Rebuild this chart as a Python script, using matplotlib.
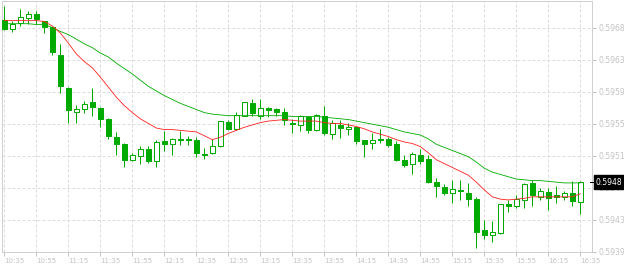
import matplotlib
matplotlib.use('Agg')
import matplotlib.pyplot as plt
import matplotlib.transforms as mtransforms

# 5-minute candles, 10:35 .. 16:35
opens = [0.59686, 0.59674, 0.59682, 0.59688, 0.59694, 0.59684, 0.59677, 0.59641, 0.59598, 0.59567,
         0.59571, 0.59580, 0.59572, 0.59558, 0.59534, 0.59526, 0.59505, 0.59510, 0.59519, 0.59504,
         0.59529, 0.59525, 0.59532, 0.59532, 0.59531, 0.59513, 0.59514, 0.59523, 0.59554, 0.59545,
         0.59562, 0.59578, 0.59562, 0.59572, 0.59570, 0.59567, 0.59552, 0.59550, 0.59560, 0.59543,
         0.59562, 0.59538, 0.59550, 0.59545, 0.59547, 0.59530, 0.59527, 0.59532, 0.59532, 0.59526,
         0.59505, 0.59499, 0.59511, 0.59506, 0.59476, 0.59470, 0.59462, 0.59466, 0.59462, 0.59454,
         0.59414, 0.59407, 0.59410, 0.59448, 0.59445, 0.59453, 0.59475, 0.59457, 0.59463, 0.59459,
         0.59457, 0.59462, 0.59450]
highs = [0.59704, 0.59684, 0.59700, 0.59698, 0.59698, 0.59685, 0.59677, 0.59655, 0.59599, 0.59576,
         0.59581, 0.59598, 0.59573, 0.59559, 0.59541, 0.59527, 0.59514, 0.59523, 0.59523, 0.59530,
         0.59542, 0.59533, 0.59542, 0.59536, 0.59535, 0.59520, 0.59532, 0.59555, 0.59557, 0.59567,
         0.59580, 0.59583, 0.59583, 0.59573, 0.59572, 0.59572, 0.59558, 0.59563, 0.59562, 0.59564,
         0.59574, 0.59557, 0.59557, 0.59552, 0.59548, 0.59531, 0.59540, 0.59545, 0.59535, 0.59529,
         0.59511, 0.59515, 0.59519, 0.59511, 0.59481, 0.59473, 0.59479, 0.59479, 0.59475, 0.59457,
         0.59427, 0.59426, 0.59448, 0.59453, 0.59460, 0.59475, 0.59479, 0.59469, 0.59468, 0.59471,
         0.59465, 0.59477, 0.59478]
lows = [0.59673, 0.59670, 0.59678, 0.59680, 0.59680, 0.59669, 0.59640, 0.59591, 0.59553, 0.59553,
        0.59565, 0.59562, 0.59548, 0.59532, 0.59511, 0.59496, 0.59504, 0.59500, 0.59501, 0.59496,
        0.59516, 0.59511, 0.59524, 0.59524, 0.59509, 0.59506, 0.59512, 0.59522, 0.59543, 0.59544,
        0.59561, 0.59562, 0.59558, 0.59560, 0.59561, 0.59550, 0.59540, 0.59542, 0.59540, 0.59542,
        0.59537, 0.59532, 0.59533, 0.59537, 0.59526, 0.59508, 0.59519, 0.59527, 0.59522, 0.59503,
        0.59496, 0.59486, 0.59499, 0.59475, 0.59457, 0.59460, 0.59449, 0.59453, 0.59445, 0.59391,
        0.59402, 0.59398, 0.59409, 0.59437, 0.59442, 0.59442, 0.59445, 0.59453, 0.59440, 0.59449,
        0.59453, 0.59445, 0.59435]
closes = [0.59674, 0.59680, 0.59690, 0.59694, 0.59687, 0.59677, 0.59644, 0.59600, 0.59569, 0.59570,
          0.59577, 0.59573, 0.59558, 0.59536, 0.59525, 0.59505, 0.59511, 0.59519, 0.59504, 0.59528,
          0.59525, 0.59532, 0.59531, 0.59530, 0.59514, 0.59511, 0.59523, 0.59555, 0.59545, 0.59563,
          0.59580, 0.59565, 0.59572, 0.59569, 0.59567, 0.59556, 0.59551, 0.59561, 0.59543, 0.59563,
          0.59540, 0.59552, 0.59546, 0.59547, 0.59529, 0.59525, 0.59531, 0.59530, 0.59524, 0.59505,
          0.59498, 0.59513, 0.59504, 0.59476, 0.59471, 0.59462, 0.59467, 0.59464, 0.59454, 0.59411,
          0.59407, 0.59411, 0.59448, 0.59445, 0.59454, 0.59474, 0.59459, 0.59464, 0.59456, 0.59457,
          0.59462, 0.59452, 0.59476]

# moving averages as drawn on the chart
ma_fast = [0.59685, 0.59685, 0.59685, 0.59685, 0.59685, 0.59684, 0.59678, 0.59669, 0.59656, 0.59642,
           0.59632, 0.59624, 0.59612, 0.59599, 0.59586, 0.59575, 0.59566, 0.59558, 0.59552, 0.59546,
           0.59544, 0.59544, 0.59543, 0.59542, 0.59541, 0.59536, 0.59531, 0.59534, 0.59539, 0.59543,
           0.59547, 0.59550, 0.59553, 0.59555, 0.59556, 0.59557, 0.59556, 0.59555, 0.59555, 0.59555,
           0.59553, 0.59552, 0.59552, 0.59550, 0.59548, 0.59545, 0.59541, 0.59538, 0.59535, 0.59531,
           0.59528, 0.59526, 0.59522, 0.59514, 0.59505, 0.59500, 0.59495, 0.59490, 0.59485, 0.59476,
           0.59466, 0.59457, 0.59454, 0.59453, 0.59454, 0.59455, 0.59457, 0.59457, 0.59457, 0.59457,
           0.59457, 0.59457, 0.59461]
ma_slow = [0.59681, 0.59681, 0.59681, 0.59681, 0.59680, 0.59680, 0.59676, 0.59671, 0.59667, 0.59661,
           0.59655, 0.59650, 0.59643, 0.59638, 0.59630, 0.59623, 0.59616, 0.59608, 0.59600, 0.59594,
           0.59588, 0.59583, 0.59578, 0.59574, 0.59570, 0.59566, 0.59564, 0.59563, 0.59562, 0.59562,
           0.59562, 0.59562, 0.59562, 0.59562, 0.59562, 0.59562, 0.59561, 0.59561, 0.59561, 0.59561,
           0.59560, 0.59559, 0.59558, 0.59557, 0.59555, 0.59553, 0.59551, 0.59549, 0.59547, 0.59544,
           0.59541, 0.59539, 0.59537, 0.59532, 0.59525, 0.59521, 0.59517, 0.59513, 0.59509, 0.59502,
           0.59494, 0.59489, 0.59486, 0.59483, 0.59480, 0.59479, 0.59478, 0.59478, 0.59477, 0.59476,
           0.59475, 0.59475, 0.59475]

time_labels = ['10:35', '10:55', '11:15', '11:35', '11:55', '12:15', '12:35', '12:55', '13:15',
               '13:35', '13:55', '14:15', '14:35', '14:55', '15:15', '15:35', '15:55', '16:15', '16:35']
y_ticks = [0.59386, 0.594274, 0.594688, 0.595102, 0.595516, 0.59593, 0.596344, 0.596758]
y_labels = ['0.5939', '0.5943', '0.5947', '0.5951', '0.5955', '0.5959', '0.5963', '0.5968']
last_label = '0.5948'

GREEN = '#00aa00'
GRID = '#dcdcdc'
TXT = '#c4c4c4'
PX = 0.72  # one pixel in points at 100 dpi

fig = plt.figure(figsize=(6.24, 2.66), dpi=100)
ax = fig.add_axes([1.7 / 624, 14.3 / 266, 590.3 / 624, 250.4 / 266])

n = len(closes)
xs = list(range(n))

# candles: wick first, then body (hollow = up, filled = down)
ax.vlines(xs, lows, highs, color=GREEN, lw=PX, zorder=2)
for i in xs:
    o, c = opens[i], closes[i]
    up = c > o
    h = max(abs(c - o), 0.000004)
    ax.bar(i, h, bottom=min(o, c), width=0.6, color='white' if up else GREEN,
           edgecolor=GREEN, linewidth=PX, zorder=3)

ax.plot(xs, ma_slow, color=GREEN, lw=0.6, zorder=4)
ax.plot(xs, ma_fast, color='#ff2020', lw=0.6, zorder=4)

ax.set_xlim(-0.325, 73.46)
ax.set_ylim(0.59386, 0.59710)

# grid and frame
ax.set_xticks(range(0, n, 4))
ax.set_xticklabels(time_labels, ha='left')
ax.set_yticks(y_ticks)
ax.set_yticklabels(y_labels)
ax.yaxis.tick_right()
ax.grid(True, color=GRID, lw=PX, linestyle=(0, (3, 2)))
ax.set_axisbelow(True)
for s in ax.spines.values():
    s.set_color('#d0d0d0')
    s.set_linewidth(PX)
ax.tick_params(axis='x', colors=TXT, labelsize=5, length=3, width=PX, pad=1.5, labelcolor=TXT)
ax.tick_params(axis='y', colors=TXT, labelsize=5.5, length=3, width=PX, pad=1.5, labelcolor=TXT)

# current price marker on the right axis
trans = mtransforms.blended_transform_factory(ax.transAxes, ax.transData)
ax.plot([0.9966, 1.004], [closes[-1], closes[-1]], color='black', lw=PX,
        transform=trans, clip_on=False, zorder=6)
ax.text(1.0065, closes[-1], last_label, transform=trans, ha='left', va='center',
        color='white', fontsize=5.5, zorder=7, clip_on=False,
        bbox=dict(boxstyle='square,pad=0.3', fc='black', ec='black'))

fig.savefig('out.png', dpi=100)
